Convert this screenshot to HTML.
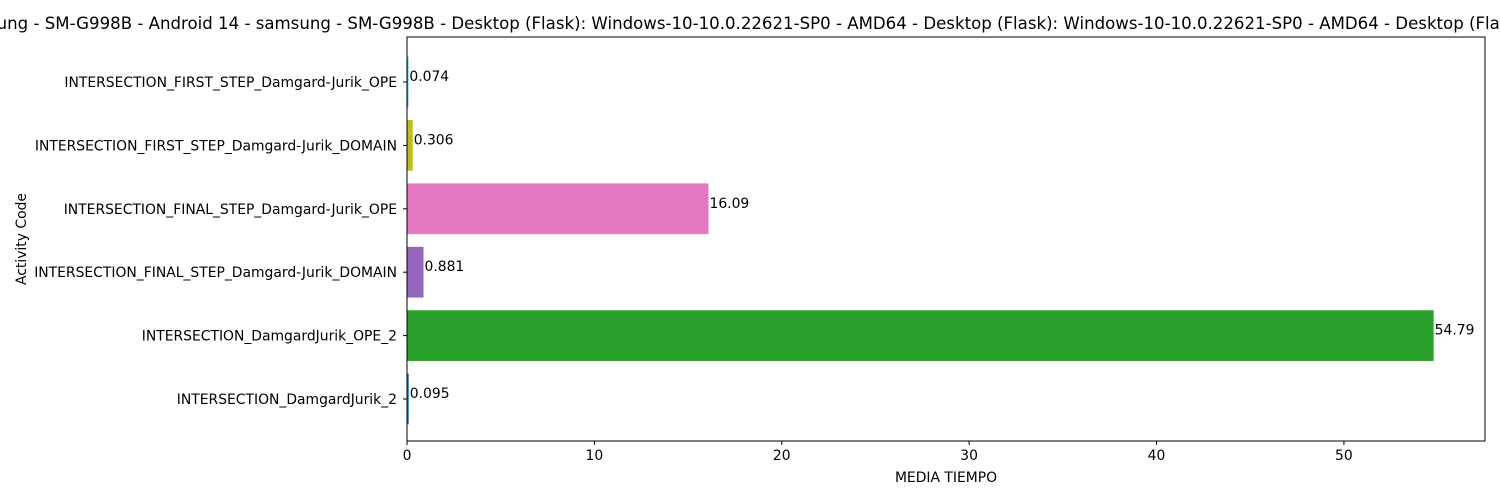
<!DOCTYPE html>
<html><head><meta charset="utf-8"><style>
html,body{margin:0;padding:0;background:#fff;width:1500px;height:500px;overflow:hidden}
svg text{font-family:"DejaVu Sans","Liberation Sans",sans-serif;fill:#000}
</style></head><body>
<svg id="chart" width="1500" height="500">
<text x="-47" y="29" font-size="16.6">samsung - SM-G998B - Android 14 - samsung - SM-G998B - Desktop (Flask): Windows-10-10.0.22621-SP0 - AMD64 - Desktop (Flask): Windows-10-10.0.22621-SP0 - AMD64 - Desktop (Flask)</text>
<g id="plot"></g>
<rect x="407" y="37" width="1078" height="404" fill="none" stroke="#000" stroke-width="1"/>
<text x="946" y="482" font-size="13.9" text-anchor="middle">MEDIA TIEMPO</text>
<text transform="translate(26,239) rotate(-90)" font-size="13.9" text-anchor="middle">Activity Code</text>
</svg>
<script>
const categories = ["INTERSECTION_DamgardJurik_2","INTERSECTION_DamgardJurik_OPE_2","INTERSECTION_FINAL_STEP_Damgard-Jurik_DOMAIN","INTERSECTION_FINAL_STEP_Damgard-Jurik_OPE","INTERSECTION_FIRST_STEP_Damgard-Jurik_DOMAIN","INTERSECTION_FIRST_STEP_Damgard-Jurik_OPE"];
const values = [0.095, 54.79, 0.881, 16.09, 0.306, 0.074];
const valueLabels = ["0.095","54.79","0.881","16.09","0.306","0.074"];
const colors = ["#1f77b4","#2ca02c","#9467bd","#e377c2","#bcbd22","#17becf"];
const xTicks = [0,10,20,30,40,50];

const L=407,R=1485,T=37,B=441,XMAX=57.53;
const x=v=>L+v/XMAX*(R-L);
const step=63.4;
const yc=i=>399-step*i;
const g=document.getElementById('plot');
const NS="http://www.w3.org/2000/svg";
function mk(t,a){const e=document.createElementNS(NS,t);for(const k in a)e.setAttribute(k,a[k]);return e;}
categories.forEach((c,i)=>{
  const h=step*0.8;
  const r=mk('rect',{x:L,y:yc(i)-h/2,width:x(values[i])-L,height:h,fill:colors[i]});
  
  
  g.appendChild(r);
  const vt=mk('text',{x:x(values[i])+1,y:yc(i)-1,'font-size':13.9});
  vt.textContent=valueLabels[i];
  
  
  g.appendChild(vt);
  g.appendChild(mk('line',{x1:L-4,x2:L,y1:yc(i),y2:yc(i),stroke:'#000'}));
  const lt=mk('text',{x:L-10,y:yc(i)+5,'font-size':13.9,'text-anchor':'end'});
  lt.textContent=c;
  
  
  g.appendChild(lt);
});
xTicks.forEach(v=>{
  g.appendChild(mk('line',{x1:x(v),x2:x(v),y1:B,y2:B+4,stroke:'#000'}));
  const t=mk('text',{x:x(v),y:B+19,'font-size':13.9,'text-anchor':'middle'});
  t.textContent=v;
  
  
  g.appendChild(t);
});
</script>
</body></html>
